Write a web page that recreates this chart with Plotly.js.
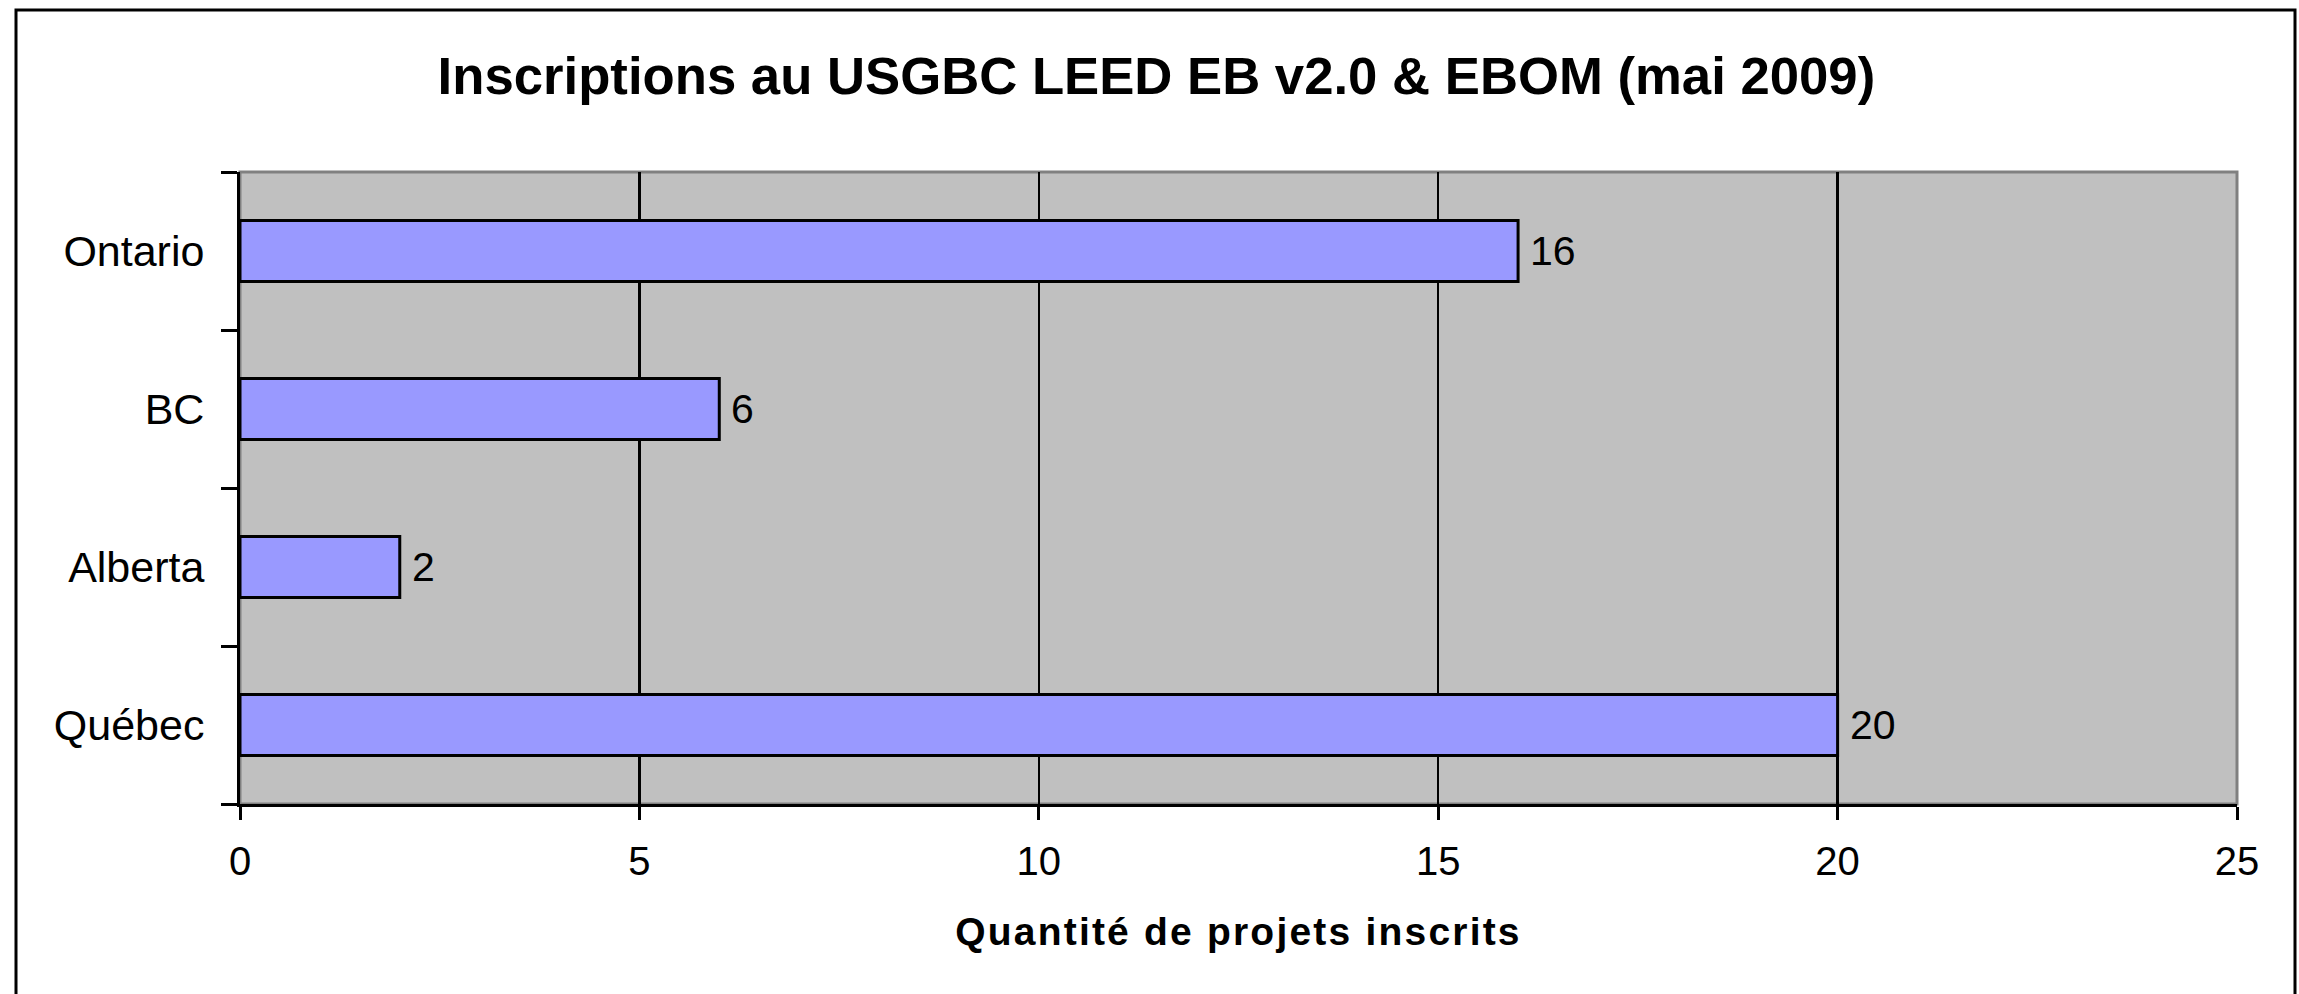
<!DOCTYPE html>
<html>
<head>
<meta charset="utf-8">
<script src="https://cdn.plot.ly/plotly-3.0.1.min.js"></script>
<style>
html,body{margin:0;padding:0;background:#fff;}
#chart{width:2299px;height:994px;}
.xtitle{letter-spacing:2.2px;}
</style>
</head>
<body>
<div id="chart"></div>
<script>
const categories = ['Québec', 'Alberta', 'BC', 'Ontario'];
const values = [20, 2, 6, 16];
const xTickValues = [0, 5, 10, 15, 20, 25];
const chartTitle = 'Inscriptions au USGBC LEED EB v2.0 &amp; EBOM (mai 2009)';
const xAxisTitle = 'Quantité de projets inscrits';

const font = 'Arial, "Liberation Sans", sans-serif';

const trace = {
  type: 'bar',
  orientation: 'h',
  x: values,
  y: categories,
  marker: {color: '#9999FF', line: {color: '#000000', width: 3}},
  hoverinfo: 'x+y'
};

const annotations = values.map((v, i) => ({
  x: v, y: categories[i], xref: 'x', yref: 'y',
  text: String(v), showarrow: false, xanchor: 'left', yanchor: 'middle',
  xshift: 10, font: {family: font, size: 41, color: '#000'}
}));

const layout = {
  width: 2299, height: 994,
  margin: {l: 240, r: 62, t: 172, b: 190},
  paper_bgcolor: '#ffffff',
  plot_bgcolor: '#C0C0C0',
  bargap: 0.614,
  showlegend: false,
  title: {
    text: '<b>' + chartTitle + '</b>',
    xref: 'container', x: 0.503, xanchor: 'center',
    yref: 'container', y: 1 - 76/994, yanchor: 'middle',
    font: {family: font, size: 52.7, color: '#000'}
  },
  xaxis: {
    range: [0, 25], tickvals: xTickValues, ticktext: xTickValues.map(String),
    showgrid: true, gridcolor: '#000', gridwidth: 2.5,
    zeroline: false,
    showline: true, linecolor: '#000', linewidth: 3,
    ticks: 'outside', ticklen: 13, tickwidth: 3, tickcolor: '#000',
    ticklabelstandoff: 7,
    tickfont: {family: font, size: 40, color: '#000'},
    title: {text: '<b>' + xAxisTitle + '</b>', standoff: 36, font: {family: font, size: 39, color: '#000'}},
    fixedrange: true
  },
  yaxis: {
    type: 'category', categoryorder: 'array', categoryarray: categories,
    showgrid: false, zeroline: false,
    showline: true, linecolor: '#000', linewidth: 3,
    ticks: 'outside', tickson: 'boundaries', ticklen: 16, tickwidth: 3, tickcolor: '#000',
    ticklabelstandoff: 24,
    tickfont: {family: font, size: 43, color: '#000'},
    fixedrange: true
  },
  shapes: [
    {type: 'rect', xref: 'paper', yref: 'paper', x0: 0, x1: 1, y0: 0, y1: 1,
     line: {color: '#808080', width: 3}, layer: 'below'},
    {type: 'rect', xref: 'paper', yref: 'paper',
     x0: (16 - 240) / 1997, x1: (2295 - 240) / 1997,
     y0: (804 - 1010) / 632, y1: (804 - 10) / 632,
     line: {color: '#000', width: 3}, layer: 'above'}
  ],
  annotations: annotations
};

Plotly.newPlot('chart', [trace], layout, {displayModeBar: false, staticPlot: true});
</script>
</body>
</html>
